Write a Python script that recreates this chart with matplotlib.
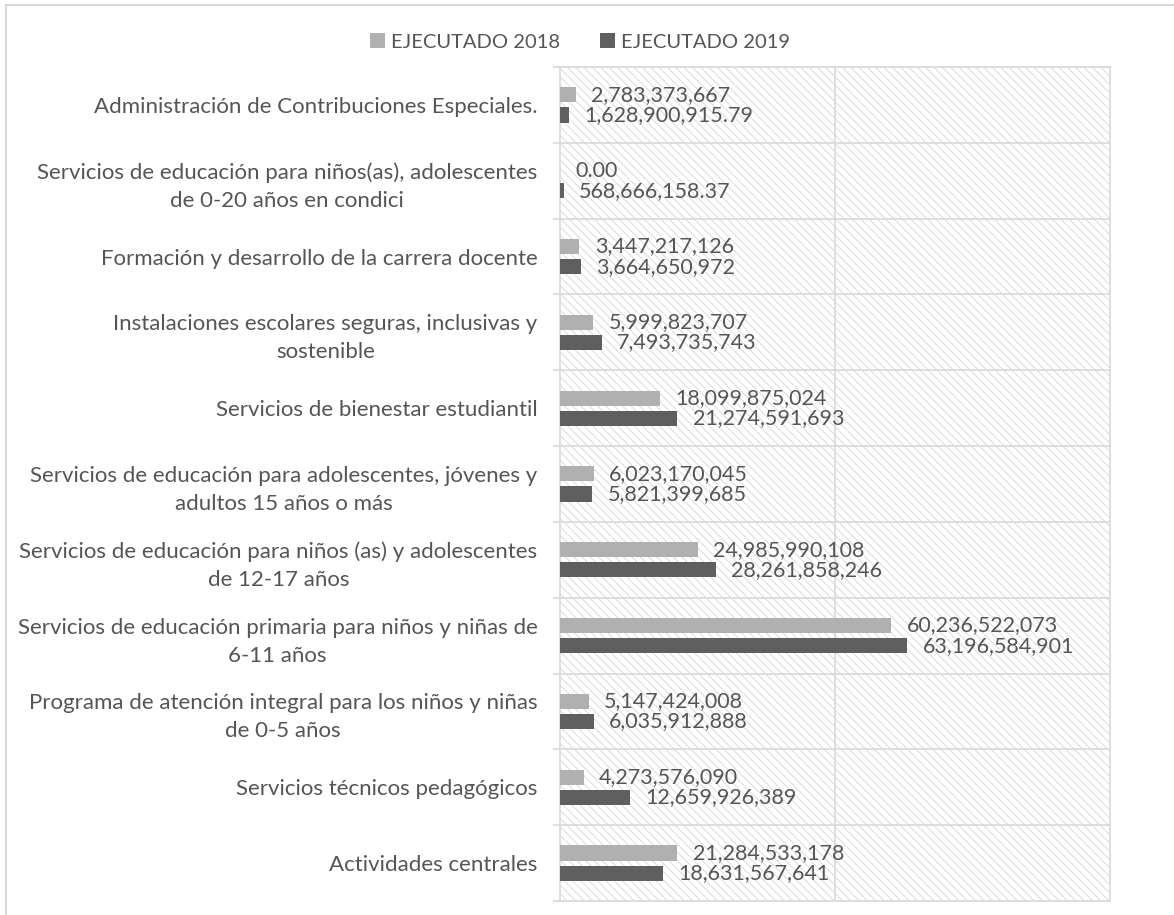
import matplotlib.pyplot as plt
from matplotlib.patches import Rectangle
from matplotlib.lines import Line2D
import numpy as np

plt.rcParams['font.family'] = ['Lato', 'DejaVu Sans']
plt.rcParams['hatch.linewidth'] = 0.65

# Data (top to bottom as shown)
categories = [
    "Administración de Contribuciones Especiales.",
    "Servicios de educación para niños(as), adolescentes\nde 0-20 años en condici",
    "Formación y desarrollo de la carrera docente",
    "Instalaciones escolares seguras, inclusivas y\nsostenible",
    "Servicios de bienestar estudiantil",
    "Servicios de educación para adolescentes, jóvenes y\nadultos 15 años o más",
    "Servicios de educación para niños (as) y adolescentes\nde 12-17 años",
    "Servicios de educación primaria para niños y niñas de\n6-11 años",
    "Programa de atención integral para los niños y niñas\nde 0-5 años",
    "Servicios técnicos pedagógicos",
    "Actividades centrales",
]
ejecutado_2018 = [2783373667, 0.00, 3447217126, 5999823707, 18099875024,
                  6023170045, 24985990108, 60236522073, 5147424008,
                  4273576090, 21284533178]
ejecutado_2019 = [1628900915.79, 568666158.37, 3664650972, 7493735743,
                  21274591693, 5821399685, 28261858246, 63196584901,
                  6035912888, 12659926389, 18631567641]
series_names = ["EJECUTADO 2018", "EJECUTADO 2019"]

c2018 = "#b0b0b0"
c2019 = "#5f5f5f"
text_c = "#555555"
grid_c = "#d9d9d9"


def fmt(v):
    if v == 0 or v != int(v):
        return f"{v:,.2f}"
    return f"{v:,.0f}"


fig = plt.figure(figsize=(11.74, 9.15), dpi=100)
ax = fig.add_axes([0.4774, 0.0153, 0.9451 - 0.4774, 0.9268 - 0.0153])

y = np.arange(len(categories))
h = 0.2
off = 0.133

# hatched plot background
ax.add_patch(Rectangle((0, 0), 1, 1, transform=ax.transAxes, facecolor="white",
                       edgecolor="#d8d8d8", hatch="\\\\\\\\", linewidth=0, zorder=0))

b1 = ax.barh(y - off, ejecutado_2018, height=h, color=c2018, zorder=3, label=series_names[0])
b2 = ax.barh(y + off, ejecutado_2019, height=h, color=c2019, zorder=3, label=series_names[1])

for bars, vals in ((b1, ejecutado_2018), (b2, ejecutado_2019)):
    for bar, v in zip(bars, vals):
        ax.annotate(fmt(v), (bar.get_width(), bar.get_y() + bar.get_height() / 2),
                    xytext=(11, 0), textcoords="offset points", va="center", ha="left",
                    fontsize=15.5, color=text_c, zorder=4)

ax.set_xlim(0, 100e9)
ax.set_ylim(len(categories) - 0.5, -0.5)
ax.set_xticks([50e9])
ax.xaxis.grid(True, color=grid_c, linewidth=1.2, zorder=1)
ax.tick_params(axis="x", length=0, labelbottom=False)

ax.set_yticks(y)
ax.set_yticklabels(categories, fontsize=16, color=text_c, ha="right",
                   multialignment="center", linespacing=1.5)
ax.set_yticks(np.arange(-0.5, len(categories)), minor=True)
ax.tick_params(axis="y", which="major", length=0, pad=16.5)
ax.tick_params(axis="y", which="minor", length=5, color=grid_c, width=1.2)
ax.yaxis.grid(True, which="minor", color=grid_c, linewidth=1.2, zorder=1)
ax.set_axisbelow(True)

for s in ax.spines.values():
    s.set_color(grid_c)
    s.set_linewidth(1.2)

leg = fig.legend(handles=[b1, b2], labels=series_names, loc="center",
                 bbox_to_anchor=(0.494, 1 - 42 / 915), ncol=2, frameon=False,
                 fontsize=14.5, handlelength=0.75, handleheight=0.75,
                 handletextpad=0.3, columnspacing=2.0)
for t in leg.get_texts():
    t.set_color(text_c)

# outer chart border (top and left visible)
fig.add_artist(Line2D([6 / 1174, 1], [1 - 5 / 915, 1 - 5 / 915], color=grid_c, lw=1.5))
fig.add_artist(Line2D([6 / 1174, 6 / 1174], [0, 1 - 5 / 915], color=grid_c, lw=1.5))

fig.savefig("out.png", dpi=100)
